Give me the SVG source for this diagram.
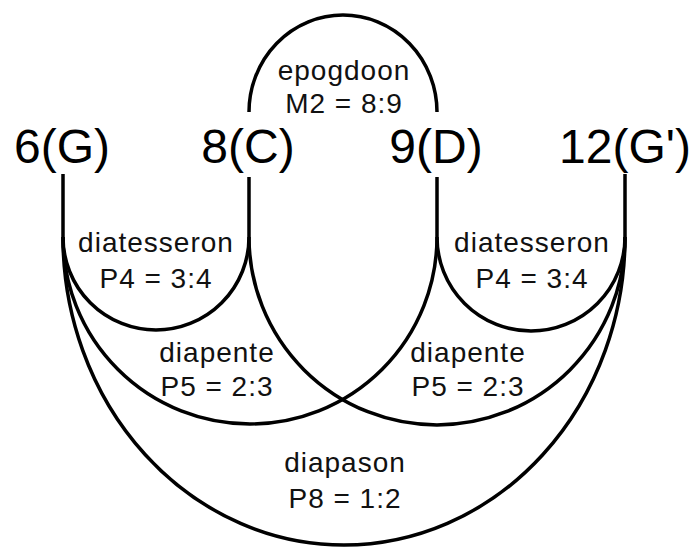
<svg xmlns="http://www.w3.org/2000/svg" width="696" height="547" viewBox="0 0 696 547">
<style>
.c{fill:none;stroke:#000;stroke-width:3.5}
.big{font-family:"Liberation Sans",Arial,sans-serif;font-size:48px;fill:#000;text-anchor:middle}
.lab{font-family:"Liberation Sans",Arial,sans-serif;font-size:28px;letter-spacing:1px;fill:#111;text-anchor:middle}
</style>
<rect width="696" height="547" fill="#fff"/>
<g id="connectors">
<path class="c" d="M249,112 A94,97 0 0 1 437,112"/>
<path class="c" d="M63,174 V237 M249,177 V237 M437,177 V237 M625,174 V237"/>
<path class="c" d="M63,237 A93,93 0 0 0 249,237"/>
<path class="c" d="M437,237 A94,94 0 0 0 625,237"/>
<path class="c" d="M63,237 A187,187 0 0 0 437,237"/>
<path class="c" d="M249,237 A188,188 0 0 0 625,237"/>
<path class="c" d="M63,237 A281,308 0 0 0 625,237"/>
</g>
<g id="n6G"><text class="big" x="62" y="163">6(G)</text></g>
<g id="n8C"><text class="big" x="248" y="163">8(C)</text></g>
<g id="n9D"><text class="big" x="436" y="163">9(D)</text></g>
<g id="n12G"><text class="big" x="625" y="163">12(G')</text></g>
<g id="epogdoon"><text class="lab" x="344" y="80">epogdoon</text><text class="lab" x="344" y="113">M2 = 8:9</text></g>
<g id="diatesseron-left"><text class="lab" x="156" y="252">diatesseron</text><text class="lab" x="156" y="288">P4 = 3:4</text></g>
<g id="diatesseron-right"><text class="lab" x="532" y="252">diatesseron</text><text class="lab" x="532" y="288">P4 = 3:4</text></g>
<g id="diapente-left"><text class="lab" x="217" y="362">diapente</text><text class="lab" x="217" y="396">P5 = 2:3</text></g>
<g id="diapente-right"><text class="lab" x="468" y="362">diapente</text><text class="lab" x="468" y="396">P5 = 2:3</text></g>
<g id="diapason"><text class="lab" x="345" y="472">diapason</text><text class="lab" x="345" y="508">P8 = 1:2</text></g>
</svg>
